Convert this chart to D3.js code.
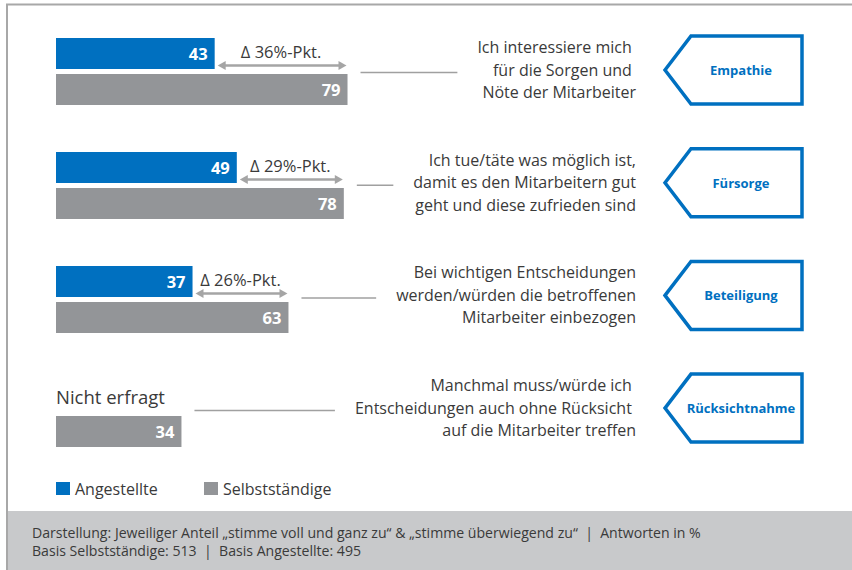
<!DOCTYPE html>
<html><head><meta charset="utf-8">
<script src="https://cdn.jsdelivr.net/npm/d3@7"></script>
<style>
html,body{margin:0;padding:0;background:#fff;}
svg{display:block;font-family:"Open Sans",Lato,sans-serif;}
</style></head>
<body>
<svg id="c" width="852" height="570"></svg>
<script>
const categories = ["Empathie","Fürsorge","Beteiligung","Rücksichtnahme"];
const angestellte = [43, 49, 37, null];
const selbststaendige = [79, 78, 63, 34];
const statements = [
  ["Ich interessiere mich ","für die Sorgen und ","Nöte der Mitarbeiter"],
  ["Ich tue/täte was möglich ist,","damit es den Mitarbeitern gut","geht und diese zufrieden sind"],
  ["Bei wichtigen Entscheidungen","werden/würden die betroffenen","Mitarbeiter einbezogen"],
  ["Manchmal muss/würde ich ","Entscheidungen auch ohne Rücksicht ","auf die Mitarbeiter treffen"]
];
const seriesNames = ["Angestellte","Selbstständige"];
const notAskedLabel = "Nicht erfragt";
const footerLines = [
  "Darstellung: Jeweiliger Anteil „stimme voll und ganz zu“ & „stimme überwiegend zu“  |  Antworten in %",
  "Basis Selbstständige: 513  |  Basis Angestellte: 495"
];

const BLUE = "#0070c0", GRAY = "#939598", TXT = "#3a3a3a", ARROW = "#a5a5a5";
const svg = d3.select("#c");

// frame
svg.append("rect").attr("x",0).attr("y",0).attr("width",852).attr("height",570).attr("fill","#fff");
svg.append("line").attr("x1",6).attr("x2",852).attr("y1",4.5).attr("y2",4.5).attr("stroke","#a8a8a8").attr("stroke-width",2);
svg.append("line").attr("x1",7).attr("x2",7).attr("y1",4).attr("y2",570).attr("stroke","#a8a8a8").attr("stroke-width",2);

const x = d3.scaleLinear().domain([0,100]).range([56,425]);
const yGray = d3.scaleLinear().domain([0,1]).range([74,188]);
const yTag = d3.scaleLinear().domain([0,1]).range([70,182.7]);
const barH = 31;

categories.forEach((cat,i)=>{
  const g = svg.append("g");
  const gy = yGray(i), by = gy - 36, cy = yTag(i);
  const a = angestellte[i], s = selbststaendige[i];
  // gray bar
  g.append("rect").attr("x",x(0)).attr("y",gy).attr("width",x(s)-x(0)).attr("height",barH).attr("fill",GRAY);
  g.append("text").attr("x",x(s)-7).attr("y",gy+barH/2+6.5).attr("text-anchor","end")
    .attr("fill","#fff").attr("font-weight","bold").attr("font-size",16.5).text(s);
  if(a!=null){
    g.append("rect").attr("x",x(0)).attr("y",by).attr("width",x(a)-x(0)).attr("height",barH).attr("fill",BLUE);
    g.append("text").attr("x",x(a)-7).attr("y",by+barH/2+6.5).attr("text-anchor","end")
      .attr("fill","#fff").attr("font-weight","bold").attr("font-size",16.5).text(a);
    // double arrow
    const ay = by + barH - 3.5, x1 = x(a)+3, x2 = x(s)-1, hw=8, hh=4.5;
    g.append("line").attr("x1",x1+hw-1).attr("x2",x2-hw+1).attr("y1",ay).attr("y2",ay).attr("stroke",ARROW).attr("stroke-width",2.5);
    g.append("path").attr("d",`M${x1},${ay}L${x1+hw},${ay-hh}L${x1+hw},${ay+hh}Z`).attr("fill",ARROW);
    g.append("path").attr("d",`M${x2},${ay}L${x2-hw},${ay-hh}L${x2-hw},${ay+hh}Z`).attr("fill",ARROW);
    g.append("text").attr("x",(x(a)+x(s))/2).attr("y",ay-8).attr("text-anchor","middle")
      .attr("fill",TXT).attr("font-size",16.5).text("Δ "+(s-a)+"%-Pkt.");
  } else {
    g.append("text").attr("x",x(0)).attr("y",gy-12).attr("fill",TXT).attr("font-size",18.5).text(notAskedLabel);
  }
  // statement text
  const t = g.append("text").attr("text-anchor","end").attr("fill",TXT).attr("font-size",16).attr("xml:space","preserve").style("white-space","pre");
  statements[i].forEach((line,k)=>{
    t.append("tspan").attr("x",636).attr("y",cy+(k-1)*22.5+5.5).text(line);
  });
  const bb = t.node().getBBox();
  // connector
  g.append("line").attr("x1",x(s)+13).attr("x2",bb.x-20).attr("y1",cy+2.5).attr("y2",cy+2.5)
    .attr("stroke","#a0a0a0").attr("stroke-width",1.5);
  // tag
  const tl=665, tc=691, tr=802, th=34;
  g.append("path").attr("d",`M${tl},${cy}L${tc},${cy-th}L${tr},${cy-th}L${tr},${cy+th}L${tc},${cy+th}Z`)
    .attr("fill","#fff").attr("stroke",BLUE).attr("stroke-width",3.5);
  g.append("text").attr("x",741).attr("y",cy+5).attr("text-anchor","middle").attr("fill",BLUE)
    .attr("font-weight","bold").attr("font-size",13).text(cat);
});

// legend
const legColors = [BLUE, GRAY];
const lx = [56, 204];
seriesNames.forEach((n,i)=>{
  svg.append("rect").attr("x",lx[i]).attr("y",482).attr("width",14).attr("height",13).attr("fill",legColors[i]);
  svg.append("text").attr("x",lx[i]+19).attr("y",494.5).attr("fill",TXT).attr("font-size",16).text(n);
});

// footer
svg.append("rect").attr("x",8).attr("y",511).attr("width",844).attr("height",59).attr("fill","#c8c9cb");
footerLines.forEach((l,i)=>{
  svg.append("text").attr("x",32).attr("y",537.5+i*18).attr("fill",TXT).attr("font-size",14.1)
    .attr("xml:space","preserve").style("white-space","pre").text(l);
});
</script>
</body></html>
